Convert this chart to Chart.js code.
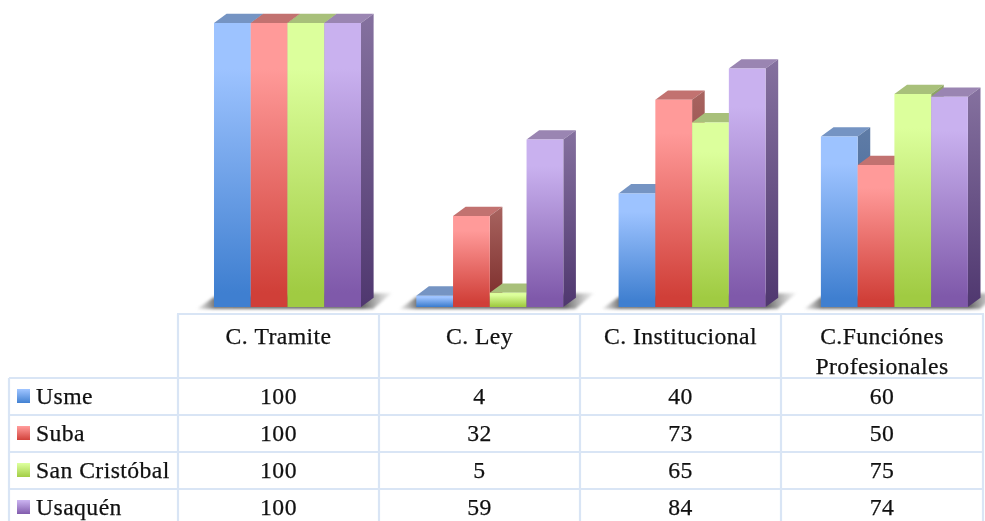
<!DOCTYPE html>
<html><head><meta charset="utf-8">
<style>html,body{margin:0;padding:0;background:#fff;width:985px;height:521px;overflow:hidden}
#wrap{position:absolute;left:0;top:0;width:1020px;height:521px}</style>
<script src="https://cdn.jsdelivr.net/npm/chart.js@4"></script>
</head><body><div id="wrap"><canvas id="c" width="1020" height="521"></canvas></div>
<script>
const categories = [['C. Tramite'], ['C. Ley'], ['C. Institucional'], ['C.Funciónes', 'Profesionales']];
const seriesNames = ['Usme', 'Suba', 'San Cristóbal', 'Usaquén'];
const usme = [100, 4, 40, 60];
const suba = [100, 32, 73, 50];
const sanCristobal = [100, 5, 65, 75];
const usaquen = [100, 59, 84, 74];
const seriesValues = [usme, suba, sanCristobal, usaquen];

const light = ['#9dc3ff', '#ff9a99', '#dcff9c', '#c9b1ef'];
const dark = ['#3f7fd0', '#d03f38', '#a0cb42', '#7f59aa'];
const topFace = ['#7594c3', '#c27270', '#a8c07a', '#9a85b2'];
const sideLight = ['#5f7ca6', '#a86460', '#8ea465', '#85719f'];
const sideDark = ['#3a5f96', '#7a2a28', '#6f8c33', '#4f376f'];

const DX = 12.6, DY = 9.3;
const FONT = '23.7px "Liberation Serif"';
const SPACING = '0.42px';
const GRID = '#d9e5f5';

function vGrad(ctx, y0, y1, stops) {
  const g = ctx.createLinearGradient(0, y0, 0, y1);
  stops.forEach(s => g.addColorStop(s[0], s[1]));
  return g;
}
function poly(ctx, pts, fill) {
  ctx.beginPath();
  pts.forEach((p, i) => i ? ctx.lineTo(p[0], p[1]) : ctx.moveTo(p[0], p[1]));
  ctx.closePath();
  ctx.fillStyle = fill;
  ctx.fill();
}
function label(ctx, t, x, y) {
  ctx.fillText(t, x, y);
  ctx.strokeText(t, x, y);
}

const columns = [178, 379, 580, 781, 983];
const rows = [314, 378, 415, 452, 489];

const bars3d = {
  id: 'bars3d',
  beforeDatasetDraw() { return false; },
  afterDatasetsDraw(chart) {
    const ctx = chart.ctx;
    const base = chart.scales.y.getPixelForValue(0);
    const metas = seriesValues.map((_, i) => chart.getDatasetMeta(i));
    categories.forEach((_, c) => {
      const first = metas[0].data[c], last = metas[metas.length - 1].data[c];
      const l = first.x - first.width / 2, r = last.x + last.width / 2;
      ctx.save();
      ctx.filter = 'blur(1.5px)';
      const sg = ctx.createLinearGradient(l - 17, 0, r + 31, 0);
      sg.addColorStop(0, 'rgba(130,130,130,0.1)');
      sg.addColorStop(0.09, 'rgba(105,105,105,0.9)');
      sg.addColorStop(0.85, 'rgba(95,95,95,0.95)');
      sg.addColorStop(1, 'rgba(150,150,150,0.1)');
      poly(ctx, [[l - 17, base + 2], [l, base - 10], [r + 31, base - 14], [r + 12, base + 2]], sg);
      ctx.restore();
      metas.forEach((m, s) => {
        const el = m.data[c];
        const x0 = el.x - el.width / 2, x1 = el.x + el.width / 2, y = el.y;
        poly(ctx, [[x0, y], [x0 + DX, y - DY], [x1 + DX, y - DY], [x1, y]], topFace[s]);
        poly(ctx, [[x1, y], [x1 + DX, y - DY], [x1 + DX, base - DY], [x1, base]],
          vGrad(ctx, y - DY, base, [[0, sideLight[s]], [1, sideDark[s]]]));
        // front face gradient spans this bar's own height
        el.options.backgroundColor = vGrad(ctx, y, base, [[0, light[s]], [0.16, light[s]], [0.95, dark[s]], [1, dark[s]]]);
        el.draw(ctx);
      });
    });
  },
  afterDraw(chart) {
    const ctx = chart.ctx;
    ctx.save();
    ctx.strokeStyle = GRID;
    ctx.lineWidth = 2.2;
    ctx.beginPath();
    ctx.moveTo(columns[0] - 1, rows[0]); ctx.lineTo(columns[4] + 1, rows[0]);
    rows.slice(1).forEach(y => { ctx.moveTo(9, y); ctx.lineTo(columns[4] + 1, y); });
    columns.forEach(x => { ctx.moveTo(x, rows[0]); ctx.lineTo(x, 521); });
    ctx.moveTo(9, rows[1]); ctx.lineTo(9, 521);
    ctx.stroke();

    ctx.fillStyle = '#111';
    ctx.strokeStyle = '#111';
    ctx.lineWidth = 0.25;
    ctx.font = FONT;
    ctx.letterSpacing = SPACING;
    ctx.textBaseline = 'alphabetic';
    ctx.textAlign = 'center';
    categories.forEach((lines, c) => {
      const cx = (columns[c] + columns[c + 1]) / 2;
      lines.forEach((t, i) => label(ctx, t, cx, 344 + i * 29.5));
    });
    seriesNames.forEach((name, s) => {
      const y = 403.5 + s * 37;
      ctx.fillStyle = vGrad(ctx, y - 14, y, [[0, light[s]], [1, dark[s]]]);
      ctx.fillRect(17, y - 14.5, 13, 14);
      ctx.fillStyle = '#111';
      ctx.textAlign = 'left';
      label(ctx, name, 36, y);
      ctx.textAlign = 'center';
      seriesValues[s].forEach((v, c) => {
        label(ctx, String(v), (columns[c] + columns[c + 1]) / 2, y);
      });
    });
    ctx.restore();
  }
};

new Chart(document.getElementById('c'), {
  type: 'bar',
  plugins: [bars3d],
  data: {
    labels: categories,
    datasets: seriesValues.map((vals, s) => ({
      label: seriesNames[s],
      data: vals,
      borderWidth: 0,
      backgroundColor: light[s]
    }))
  },
  options: {
    responsive: false,
    animation: false,
    events: [],
    layout: { padding: { left: 186.35, right: 24.45, top: 23, bottom: 214 } },
    datasets: { bar: { categoryPercentage: 0.7267, barPercentage: 1 } },
    scales: {
      x: { display: false },
      y: { display: false, min: 0, max: 100 }
    },
    plugins: { legend: { display: false }, tooltip: { enabled: false }, title: { display: false } }
  }
});
</script></body></html>
